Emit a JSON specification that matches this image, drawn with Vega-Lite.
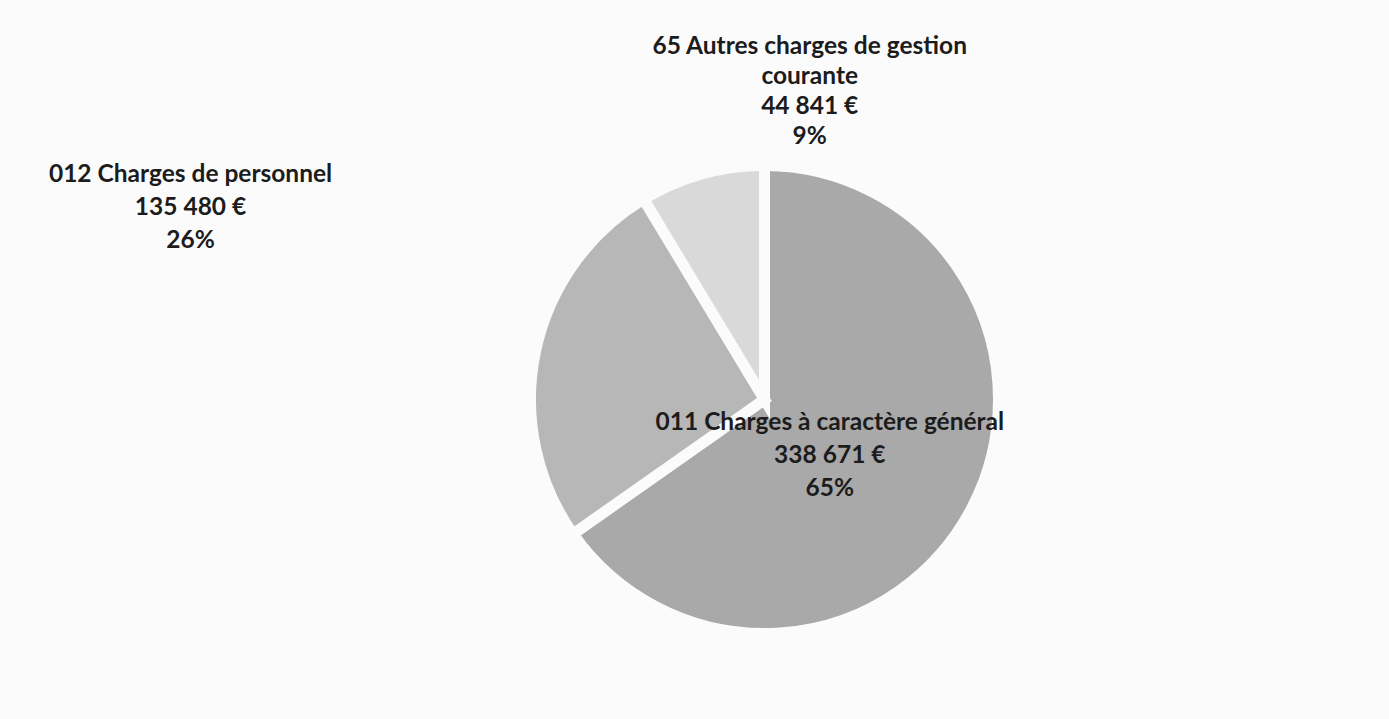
{
  "$schema": "https://vega.github.io/schema/vega-lite/v6.json",
  "width": 1249,
  "height": 639,
  "autosize": "none",
  "padding": {"left": 140, "top": 80, "right": 0, "bottom": 0},
  "background": "#fbfbfb",
  "config": {"view": {"stroke": null}},
  "data": {
    "values": [
      {"ordre": 1, "chapitre": "011 Charges à caractère général", "valeur": 338671},
      {"ordre": 2, "chapitre": "012 Charges de personnel", "valeur": 135480},
      {"ordre": 3, "chapitre": "65 Autres charges de gestion\ncourante", "valeur": 44841}
    ]
  },
  "transform": [
    {"joinaggregate": [{"op": "sum", "field": "valeur", "as": "total"}]},
    {"stack": "valeur", "groupby": [], "sort": [{"field": "ordre", "order": "ascending"}], "as": ["debut", "fin"]},
    {"calculate": "(datum.debut + datum.fin) / 2", "as": "milieu"},
    {"calculate": "datum.chapitre + '\\n' + replace(format(datum.valeur, ','), ',', ' ') + ' €' + '\\n' + format(datum.valeur / datum.total, '.0%')", "as": "texte"}
  ],
  "resolve": {"scale": {"theta": "shared"}},
  "layer": [
    {
      "mark": {"type": "arc", "outerRadius": 234, "stroke": "#fbfbfb", "strokeWidth": 11},
      "encoding": {
        "theta": {"field": "fin", "type": "quantitative"},
        "theta2": {"field": "debut"},
        "color": {
          "field": "chapitre",
          "type": "nominal",
          "legend": null,
          "scale": {
            "domain": ["011 Charges à caractère général", "012 Charges de personnel", "65 Autres charges de gestion\ncourante"],
            "range": ["#a9a9a9", "#b7b7b7", "#d9d9d9"]
          }
        }
      }
    },
    {
      "transform": [{"filter": "datum.ordre == 1"}],
      "mark": {"type": "text", "radius": 86, "dx": -11, "dy": -16, "font": "Lato", "fontWeight": "bold", "fontSize": 24.5, "lineHeight": 33, "lineBreak": "\n", "align": "center", "baseline": "middle", "color": "#1c1c1c"},
      "encoding": {
        "theta": {"field": "milieu", "type": "quantitative"},
        "text": {"field": "texte"}
      }
    },
    {
      "transform": [{"filter": "datum.ordre == 2"}],
      "mark": {"type": "text", "radius": 560, "dx": -26, "dy": -109, "font": "Lato", "fontWeight": "bold", "fontSize": 24.5, "lineHeight": 33, "lineBreak": "\n", "align": "center", "baseline": "middle", "color": "#1c1c1c"},
      "encoding": {
        "theta": {"field": "milieu", "type": "quantitative"},
        "text": {"field": "texte"}
      }
    },
    {
      "transform": [{"filter": "datum.ordre == 3"}],
      "mark": {"type": "text", "radius": 320, "dx": 131, "dy": -44, "font": "Lato", "fontWeight": "bold", "fontSize": 24.5, "lineHeight": 30, "lineBreak": "\n", "align": "center", "baseline": "middle", "color": "#1c1c1c"},
      "encoding": {
        "theta": {"field": "milieu", "type": "quantitative"},
        "text": {"field": "texte"}
      }
    }
  ]
}
